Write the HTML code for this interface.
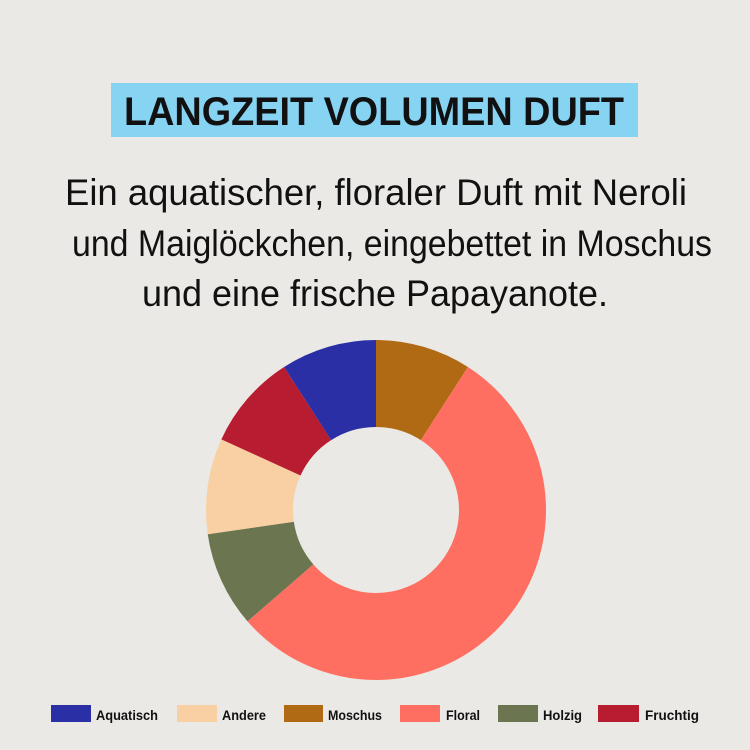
<!DOCTYPE html>
<html><head><meta charset="utf-8"><style>
html,body{margin:0;padding:0;background:#ebe9e5;}
svg{display:block;}
text{font-family:"Liberation Sans Narrow","Liberation Sans",sans-serif;fill:#111;}
</style></head><body>
<svg width="750" height="750" viewBox="0 0 750 750" xmlns="http://www.w3.org/2000/svg">
<rect width="750" height="750" fill="#ebe9e5"/>
<rect x="111" y="83" width="527" height="54" fill="#87d3f2"/>
<text x="374" y="125" text-anchor="middle" font-size="40" font-weight="bold" textLength="500" lengthAdjust="spacingAndGlyphs">LANGZEIT VOLUMEN DUFT</text>
<text x="376" y="205" text-anchor="middle" font-size="37" textLength="622" lengthAdjust="spacingAndGlyphs">Ein aquatischer, floraler Duft mit Neroli</text>
<text x="392" y="256" text-anchor="middle" font-size="37" textLength="640" lengthAdjust="spacingAndGlyphs">und Maiglöckchen, eingebettet in Moschus</text>
<text x="375" y="306" text-anchor="middle" font-size="37" textLength="466" lengthAdjust="spacingAndGlyphs">und eine frische Papayanote.</text>
<g id="donut"></g>
<g font-size="14" font-weight="bold">
<rect x="51" y="705" width="40" height="17" fill="#2b2fa5"/><text x="96" y="720" textLength="62" lengthAdjust="spacingAndGlyphs">Aquatisch</text>
<rect x="177" y="705" width="40" height="17" fill="#f8d0a4"/><text x="222" y="720" textLength="44" lengthAdjust="spacingAndGlyphs">Andere</text>
<rect x="284" y="705" width="39" height="17" fill="#b06a14"/><text x="328" y="720" textLength="54" lengthAdjust="spacingAndGlyphs">Moschus</text>
<rect x="400" y="705" width="40" height="17" fill="#ff6f61"/><text x="446" y="720" textLength="34" lengthAdjust="spacingAndGlyphs">Floral</text>
<rect x="498" y="705" width="40" height="17" fill="#6b7550"/><text x="543" y="720" textLength="39" lengthAdjust="spacingAndGlyphs">Holzig</text>
<rect x="598" y="705" width="41" height="17" fill="#b81c30"/><text x="645" y="720" textLength="54" lengthAdjust="spacingAndGlyphs">Fruchtig</text>
</g>
</svg>
<script>
(function(){
var cx=376,cy=510,R=170,r=83,u=360/11;
var segs=[[0,1,"#b06a14"],[1,7,"#ff6f61"],[7,8,"#6b7550"],[8,9,"#f8d0a4"],[9,10,"#b81c30"],[10,11,"#2b2fa5"]];
function p(a,rad){a=a*Math.PI/180;return [cx+rad*Math.sin(a),cy-rad*Math.cos(a)];}
var g=document.getElementById("donut"),h="";
segs.forEach(function(s){var a0=s[0]*u,a1=s[1]*u,l=(a1-a0)>180?1:0;
var A=p(a0,R),B=p(a1,R),C=p(a1,r),D=p(a0,r);
h+='<path fill="'+s[2]+'" d="M'+A+' A'+R+','+R+' 0 '+l+' 1 '+B+' L'+C+' A'+r+','+r+' 0 '+l+' 0 '+D+' Z"/>';});
g.innerHTML=h;
})();
</script>
</body></html>
